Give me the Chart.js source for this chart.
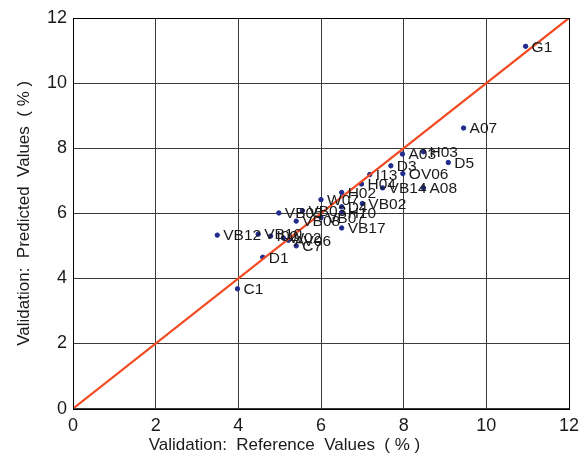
<!DOCTYPE html>
<html>
<head>
<meta charset="utf-8">
<script src="https://cdn.jsdelivr.net/npm/chart.js@4"></script>
<style>
html,body{margin:0;padding:0;background:#fff;}
#wrap{width:587px;height:459px;}
</style>
</head>
<body>
<div id="wrap"><canvas id="c" width="587" height="459"></canvas></div>
<script>
const sampleLabels = ["G1","A07","A03","H03","D5","D3","OV06","I13","H04","VB14","A08","H02","VB02","W07","D4","H10","VB05","VB03","VB07","VB08","VB17","VB12","VB10","I02","W02","AV06","C7","D1","C1"];
const referenceValues = [10.95,9.45,7.97,8.48,9.08,7.69,7.98,7.18,6.98,7.49,8.48,6.50,7.00,6.00,6.50,6.50,4.98,5.55,6.00,5.40,6.50,3.49,4.48,4.78,5.09,5.21,5.40,4.59,3.98];
const predictedValues = [11.13,8.62,7.82,7.89,7.56,7.46,7.22,7.19,6.90,6.78,6.78,6.64,6.30,6.42,6.20,6.03,6.01,6.08,5.87,5.76,5.55,5.33,5.36,5.30,5.24,5.17,5.00,4.65,3.68];
const lineX = [0, 12];
const lineY = [0, 12];
const axisMin = 0, axisMax = 12, tickStep = 2;

const font = "'Liberation Sans', Arial, sans-serif";

const labelPlugin = {
  id: 'pointLabels',
  afterDatasetsDraw(chart) {
    const ctx = chart.ctx;
    const meta = chart.getDatasetMeta(0);
    ctx.save();
    ctx.font = "15.5px " + font;
    ctx.fillStyle = "#1a1a1a";
    ctx.textBaseline = "middle";
    ctx.textAlign = "left";
    meta.data.forEach((pt, i) => {
      ctx.fillText(sampleLabels[i], pt.x + 6, pt.y + 1);
    });
    ctx.restore();
  }
};
const framePlugin = {
  id: 'frame',
  afterDraw(chart) {
    const a = chart.chartArea, ctx = chart.ctx;
    ctx.save();
    ctx.strokeStyle = "#000";
    ctx.lineWidth = 1;
    ctx.strokeRect(Math.round(a.left) + 0.5, Math.round(a.top) + 0.5, Math.round(a.right - a.left), Math.round(a.bottom - a.top));
    ctx.restore();
  }
};

new Chart(document.getElementById('c'), {
  type: 'scatter',
  data: {
    datasets: [
      {
        data: referenceValues.map((x, i) => ({x, y: predictedValues[i]})),
        backgroundColor: '#1f2a8c',
        borderColor: '#1f2a8c',
        pointRadius: 2.2,
        pointHoverRadius: 2.2,
        order: 2
      },
      {
        data: lineX.map((x, i) => ({x, y: lineY[i]})),
        showLine: true,
        borderColor: '#f24b22',
        borderWidth: 2.2,
        pointRadius: 0,
        fill: false,
        order: 1
      }
    ]
  },
  options: {
    responsive: false,
    animation: false,
    events: [],
    layout: {padding: {top: 18, right: 18, left: 0, bottom: 0}},
    plugins: {
      legend: {display: false},
      tooltip: {enabled: false},
      title: {
        display: true,
        position: 'bottom',
        text: 'Validation:  Reference  Values  ( % )',
        color: '#1a1a1a',
        font: {family: font, size: 17, weight: 'normal'},
        padding: {top: 0, bottom: 3}
      }
    },
    scales: {
      x: {
        type: 'linear', min: axisMin, max: axisMax,
        ticks: {stepSize: tickStep, color: '#1a1a1a', font: {family: font, size: 18}, padding: 7, maxRotation: 0},
        grid: {color: '#3a3a3a', lineWidth: 1, drawTicks: false},
        border: {display: false},
        afterFit(s) { s.height = 27; }
      },
      y: {
        type: 'linear', min: axisMin, max: axisMax,
        ticks: {stepSize: tickStep, color: '#1a1a1a', font: {family: font, size: 18}, padding: 6},
        grid: {color: '#3a3a3a', lineWidth: 1, drawTicks: false},
        border: {display: false},
        title: {display: true, text: 'Validation:  Predicted  Values  ( % )', color: '#1a1a1a', font: {family: font, size: 17}, padding: {top: 14, bottom: 0}},
        afterFit(s) { s.width = 73; }
      }
    }
  },
  plugins: [labelPlugin, framePlugin]
});
</script>
</body>
</html>
